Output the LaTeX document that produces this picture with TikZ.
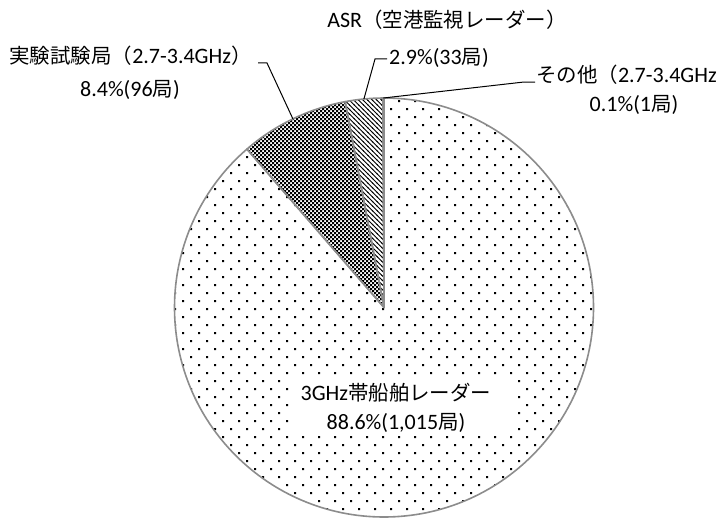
\documentclass[tikz,border=0pt]{standalone}
\usepackage{fontspec}
\setmainfont{Carlito}
\newfontfamily\cjk{Noto Sans CJK JP}[Scale=0.93]
\usetikzlibrary{patterns}
\pgfdeclarepatternformonly{mynwlines}{\pgfqpoint{-1pt}{-1pt}}{\pgfqpoint{5.6pt}{5.6pt}}{\pgfqpoint{4.6pt}{4.6pt}}{%
  \pgfsetlinewidth{0.9pt}%
  \pgfpathmoveto{\pgfqpoint{-0.5pt}{5.1pt}}%
  \pgfpathlineto{\pgfqpoint{5.1pt}{-0.5pt}}%
  \pgfusepath{stroke}}
\definecolor{piegray}{RGB}{140,140,140}
\tikzset{
  lbl/.style={inner sep=0pt, font=\fontsize{22}{26}\selectfont},
  slice/.style={draw=piegray, line width=1.6pt, line join=round},
  leader/.style={draw=black, line width=1pt}
}
\begin{document}
\begin{tikzpicture}[x=1pt,y=-1pt]
\fill[white] (0,0) rectangle (717,519);
\useasboundingbox (0,0) rectangle (717,519);
\begin{scope}[shift={(384,307.5)}, y=1pt]
  \def\R{209.5}
  % big slice with dots
  \begin{scope}
    \clip (0,0) -- (90:\R) arc[start angle=90, end angle=-229.13, radius=\R] -- cycle;
    \foreach \j in {0,...,52}{
      \pgfmathsetmacro\yy{307.5-(101+8*\j)}
      \pgfmathsetmacro\xo{175-8*mod(\j,2)-384}
      \fill \foreach \i in {0,...,27}{ (\xo+16*\i-1,\yy-1) rectangle ++(2,2) };
    }
  \end{scope}
  % experimental-station slice: fine checkerboard
  \begin{scope}
    \clip (0,0) -- (130.87:\R) arc[start angle=130.87, end angle=100.69, radius=\R] -- cycle;
    \foreach \r in {0,...,106}{
      \pgfmathsetmacro\yy{307.5-(98+2*\r)}
      \pgfmathsetmacro\xo{244+2*mod(\r,2)-384}
      \fill \foreach \i in {0,...,35}{ (\xo+4*\i,\yy) rectangle ++(2,-2) };
    }
  \end{scope}
\end{scope}
% white box behind the big label
\fill[white] (290,377) rectangle (514,434);
\begin{scope}[shift={(384,307.5)}, y=1pt]
  \def\R{209.5}
  \fill[pattern=mynwlines] (0,0) -- (100.69:\R) arc[start angle=100.69, end angle=90.31, radius=\R] -- cycle;
  \draw[slice] (0,0) -- (90:\R) arc[start angle=90, end angle=-229.13, radius=\R] -- cycle;
  \draw[slice] (0,0) -- (130.87:\R) arc[start angle=130.87, end angle=100.69, radius=\R] -- cycle;
  \draw[slice] (0,0) -- (100.69:\R) arc[start angle=100.69, end angle=90.31, radius=\R] -- cycle;
  \draw[slice] (0,0) -- (90.31:\R) arc[start angle=90.31, end angle=90, radius=\R] -- cycle;
  \coordinate (eJ) at (115.78:\R);
  \coordinate (eA) at (95.5:\R);
  \coordinate (eO) at (90.16:\R);
\end{scope}
% labels
\node[lbl] (lJ1) at (130.5,56) {{\cjk 実験試験局（}2.7-3.4GHz{\cjk ）}};
\node[lbl] (lJ2) at (130,90) {8.4\%(96{\cjk 局})};
\node[lbl] (lA1) at (447,20) {ASR{\cjk （空港監視レーダー）}};
\node[lbl, anchor=west] (lA2) at (389,58) {2.9\%(33{\cjk 局})};
\node[lbl, anchor=west] (lO1) at (536,75) {{\cjk その他（}2.7-3.4GHz};
\node[lbl] (lO2) at (634,105) {0.1\%(1{\cjk 局})};
\node[lbl] (lB1) at (396,393) {3GHz{\cjk 帯船舶レーダー}};
\node[lbl] (lB2) at (396,423) {88.6\%(1,015{\cjk 局})};
% leaders
\coordinate (cJ1) at (258,63);
\coordinate (cJ2) at (267,63);
\coordinate (cA1) at (387,59);
\coordinate (cA2) at (375,59);
\coordinate (cO1) at (535,82);
\coordinate (cO2) at (524,82);
\draw[leader] (cJ1) -- (cJ2) -- (eJ);
\draw[leader] (cA1) -- (cA2) -- (eA);
\draw[leader] (cO1) -- (cO2) -- (eO);
\end{tikzpicture}
\end{document}
